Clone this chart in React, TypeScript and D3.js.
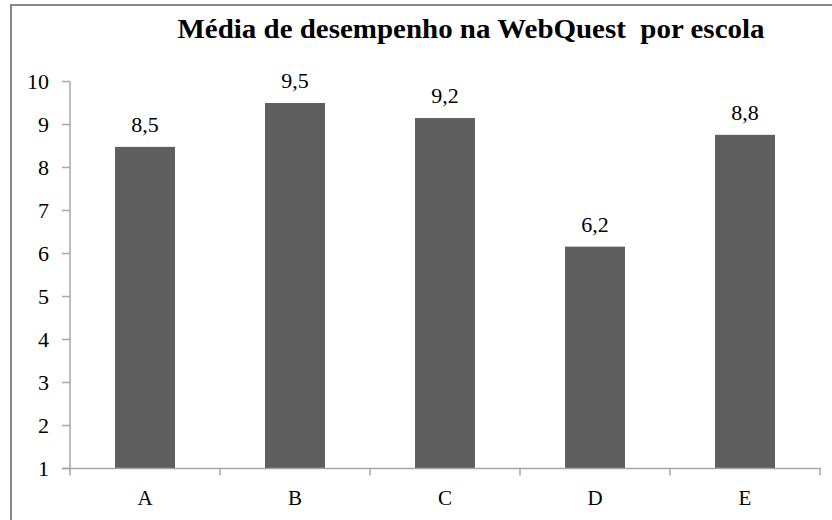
import React, { useEffect, useRef } from 'react'
import * as d3 from 'd3'

// schools and average score per school
const escolas = ['A', 'B', 'C', 'D', 'E']
const medias = [8.48, 9.5, 9.15, 6.16, 8.76]
const yTicks = [1, 2, 3, 4, 5, 6, 7, 8, 9, 10]
const titulo = 'Média de desempenho na WebQuest  por escola'

const W = 832
const H = 520
const serif = 'Liberation Serif, Times New Roman, serif'

export default function App() {
  const ref = useRef<SVGSVGElement>(null)

  useEffect(() => {
    const svg = d3.select(ref.current)
    svg.selectAll('*').remove()

    const x = d3.scaleBand<string>()
      .domain(escolas).range([70, 820])
      .paddingInner(0.6).paddingOuter(0.3)
    const y = d3.scaleLinear().domain([1, 10]).range([468.5, 81.5])
    const step = x.step()
    const off = (step - x.bandwidth()) / 2

    // outer frame
    svg.append('rect')
      .attr('x', 11).attr('y', 5)
      .attr('width', 900).attr('height', 600)
      .attr('fill', '#fff')
      .attr('stroke', '#888').attr('stroke-width', 2)

    svg.append('text')
      .attr('x', 471).attr('y', 38)
      .attr('text-anchor', 'middle')
      .attr('font-family', serif)
      .attr('font-weight', 'bold')
      .attr('font-size', 28)
      .attr('textLength', 587)
      .attr('lengthAdjust', 'spacingAndGlyphs')
      .attr('fill', '#000')
      .style('white-space', 'pre')
      .text(titulo)

    // bars
    svg.append('g').selectAll('rect')
      .data(medias).enter().append('rect')
      .attr('x', (d, i) => x(escolas[i]) as number)
      .attr('y', d => y(d))
      .attr('width', x.bandwidth())
      .attr('height', d => y(1) - y(d))
      .attr('fill', '#5f5f5f')

    svg.append('g').selectAll('text')
      .data(medias).enter().append('text')
      .attr('x', (d, i) => (x(escolas[i]) as number) + x.bandwidth() / 2)
      .attr('y', d => y(d) - 15)
      .attr('text-anchor', 'middle')
      .attr('font-family', serif)
      .attr('font-size', 22)
      .attr('fill', '#000')
      .text(d => d.toFixed(1).replace('.', ','))

    const axisColor = '#a6a6a6'

    // y axis
    svg.append('line')
      .attr('x1', 70).attr('x2', 70)
      .attr('y1', y(10)).attr('y2', y(1))
      .attr('stroke', axisColor).attr('stroke-width', 1.5)
    const yt = svg.append('g').selectAll('g')
      .data(yTicks).enter().append('g')
    yt.append('line')
      .attr('x1', 62).attr('x2', 70)
      .attr('y1', d => y(d)).attr('y2', d => y(d))
      .attr('stroke', axisColor).attr('stroke-width', 1.5)
    yt.append('text')
      .attr('x', 49).attr('y', d => y(d))
      .attr('dy', '0.35em')
      .attr('text-anchor', 'end')
      .attr('font-family', serif)
      .attr('font-size', 22)
      .attr('fill', '#000')
      .text(d => d)

    // x axis
    svg.append('line')
      .attr('x1', 62).attr('x2', 821)
      .attr('y1', y(1)).attr('y2', y(1))
      .attr('stroke', axisColor).attr('stroke-width', 1.5)
    const bounds = escolas.map(c => (x(c) as number) - off).concat([(x('E') as number) - off + step])
    svg.append('g').selectAll('line')
      .data(bounds).enter().append('line')
      .attr('x1', d => d).attr('x2', d => d)
      .attr('y1', y(1)).attr('y2', y(1) + 7)
      .attr('stroke', axisColor).attr('stroke-width', 1.5)
    svg.append('g').selectAll('text')
      .data(escolas).enter().append('text')
      .attr('x', d => (x(d) as number) + x.bandwidth() / 2)
      .attr('y', 505)
      .attr('text-anchor', 'middle')
      .attr('font-family', serif)
      .attr('font-size', 21)
      .attr('fill', '#000')
      .text(d => d)
  }, [])

  return (
    <svg ref={ref} width={W} height={H}
      style={{ position: 'absolute', left: 0, top: 0, background: '#fff' }} />
  )
}
